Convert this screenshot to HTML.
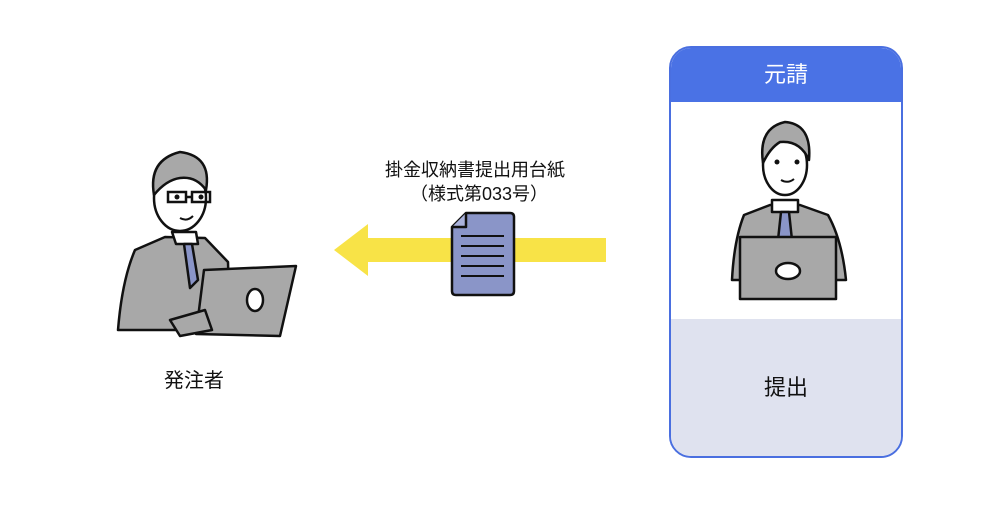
<!DOCTYPE html>
<html><head><meta charset="utf-8"><style>
body{margin:0;width:1000px;height:508px;background:#fff;overflow:hidden;font-family:"Liberation Sans","Noto Sans CJK JP",sans-serif}
.t{position:absolute;color:#111;white-space:nowrap}
</style></head><body>
<div style="position:absolute;left:669px;top:46px;width:230px;height:408px;border:2px solid #4a6fe0;border-radius:22px;overflow:hidden;background:#fff">
 <div style="height:54px;background:#4a72e5;color:#fff;font-size:22px;text-align:center;line-height:54px">元請</div>
 <div style="position:absolute;top:271px;left:0;right:0;bottom:0;background:#dfe2ef"></div>
 <div class="t" style="left:0;right:0;top:322px;text-align:center;font-size:22px">提出</div>
</div>
<svg width="1000" height="508" style="position:absolute;left:0;top:0">
 <!-- arrow -->
 <polygon points="334,250 368,224 368,238 606,238 606,262 368,262 368,276" fill="#f8e347"/>
 <!-- document -->
 <path d="M466,213 L510,213 Q514,213 514,217 L514,291 Q514,295 510,295 L456,295 Q452,295 452,291 L452,227 Z" fill="#8a95c8" stroke="#111" stroke-width="2.5" stroke-linejoin="round"/>
 <path d="M466,213 L466,227 L452,227" fill="#aab2dc" stroke="#111" stroke-width="2.5" stroke-linejoin="round"/>
 <g stroke="#111" stroke-width="2"><line x1="461" y1="236" x2="504" y2="236"/><line x1="461" y1="246" x2="504" y2="246"/><line x1="461" y1="256" x2="504" y2="256"/><line x1="461" y1="266" x2="504" y2="266"/><line x1="461" y1="276" x2="504" y2="276"/></g>
 <!-- right person -->
 <g stroke="#111" stroke-width="2.5" stroke-linejoin="round">
  <path d="M744,215 L770,205 L800,205 L828,215 Q842,240 846,280 L732,280 Q734,240 744,215 Z" fill="#a8a8a8"/>
  <path d="M772,200 L772,212 L798,212 L798,200 Z" fill="#fff"/>
  <path d="M781,212 L789,212 L792,240 L785,248 L778,240 Z" fill="#8a95c8"/>
  <ellipse cx="785" cy="165" rx="22" ry="30" fill="#fff"/>
  <path d="M763,163 Q758,128 785,122 Q812,124 809,160 Q800,140 780,142 Q770,148 763,163 Z" fill="#a8a8a8"/>
  <rect x="740" y="237" width="96" height="62" fill="#a8a8a8"/>
  <ellipse cx="788" cy="271" rx="12" ry="8" fill="#fff"/>
 </g>
 <circle cx="777" cy="162" r="2.5" fill="#111"/><circle cx="797" cy="162" r="2.5" fill="#111"/>
 <path d="M781,180 Q788,184 794,179" stroke="#111" stroke-width="2" fill="none"/>
 <!-- left person -->
 <g stroke="#111" stroke-width="2.5" stroke-linejoin="round">
  <path d="M135,250 L165,237 L205,238 L228,262 L230,330 L118,330 Q122,280 135,250 Z" fill="#a8a8a8"/>
  <path d="M172,232 L176,244 L198,244 L196,232 Z" fill="#fff"/>
  <path d="M184,244 L192,244 L198,280 L190,288 Z" fill="#8a95c8"/>
  <ellipse cx="180" cy="198" rx="26" ry="33" fill="#fff"/>
  <path d="M154,195 Q148,160 180,152 Q212,156 206,190 Q196,176 180,178 Q166,180 154,195 Z" fill="#a8a8a8"/>
  <path d="M204,270 L296,266 L280,336 L196,334 Z" fill="#a8a8a8"/>
  <ellipse cx="255" cy="300" rx="8" ry="11" fill="#fff"/>
  <path d="M170,320 L205,310 L212,330 L180,336 Z" fill="#a8a8a8"/>
 </g>
 <g stroke="#111" stroke-width="2.5" fill="none"><rect x="168" y="192" width="18" height="10"/><rect x="192" y="192" width="18" height="10"/><line x1="186" y1="197" x2="192" y2="197"/></g>
 <circle cx="177" cy="197" r="2.5" fill="#111"/><circle cx="201" cy="197" r="2.5" fill="#111"/>
 <path d="M180,218 Q187,222 193,216" stroke="#111" stroke-width="2" fill="none"/>
</svg>
<div class="t" style="left:164px;top:364px;font-size:20px">発注者</div>
<div class="t" style="left:385px;top:156px;font-size:18px">掛金収納書提出用台紙</div>
<div class="t" style="left:410px;top:180px;font-size:18px">（様式第033号）</div>
</body></html>
